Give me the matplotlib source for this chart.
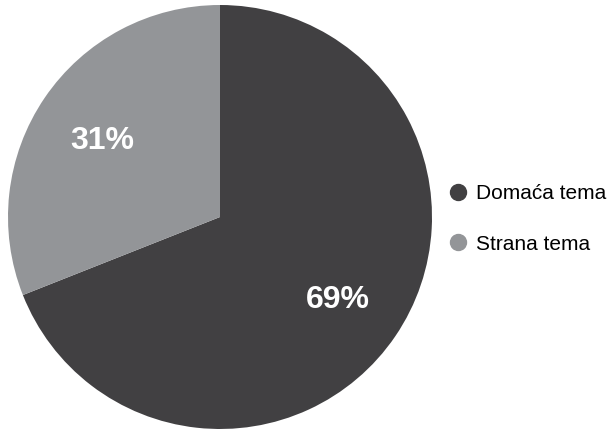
import matplotlib.pyplot as plt
from matplotlib.lines import Line2D

plt.rcParams['font.family'] = ['Liberation Sans', 'DejaVu Sans']

# podaci
kategorije = ["Domaća tema", "Strana tema"]
vrijednosti = [69, 31]
boje = ["#414042", "#939598"]

W, H = 609, 429
fig = plt.figure(figsize=(W / 100, H / 100), dpi=100)

# krug: centar (220, 217), radijus 212 px
cx, cy, r = 220, 217, 212
ax = fig.add_axes([(cx - r) / W, (H - cy - r) / H, 2 * r / W, 2 * r / H])

wedges, texts, autotexts = ax.pie(
    vrijednosti, colors=boje, startangle=90, counterclock=False,
    autopct="%d%%", pctdistance=0.67, radius=1,
    textprops=dict(color="white", fontsize=23, fontweight="bold",
                   va="center_baseline"),
)
ax.set_xlim(-1, 1)
ax.set_ylim(-1, 1)
ax.set_aspect("equal")
ax.axis("off")

handles = [Line2D([], [], marker="o", linestyle="none", markersize=11.5,
                  markerfacecolor=b, markeredgecolor=b) for b in boje]
fig.legend(handles, kategorije, loc="center left",
           bbox_to_anchor=(445 / W, 1 - 219 / H), frameon=False,
           fontsize=15, handletextpad=0.3, labelspacing=1.5,
           handlelength=1.2, borderaxespad=0, borderpad=0)

fig.savefig("out.png", dpi=100)
